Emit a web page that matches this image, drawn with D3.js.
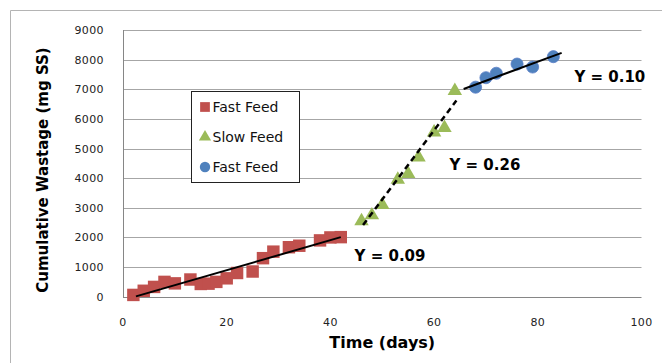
<!DOCTYPE html>
<html>
<head>
<meta charset="utf-8">
<script src="https://cdn.jsdelivr.net/npm/d3@7"></script>
<style>
  body { margin: 0; background: #fff; }
  svg { display: block; font-family: "DejaVu Sans", Verdana, sans-serif; }
</style>
</head>
<body>
<div id="chart"></div>
<script>
// values
const fastDays1 = [2, 4, 6, 8, 10, 13, 15, 16.5, 18, 20, 22, 25, 27, 29, 32, 34, 38, 40, 42];
const fastWaste1 = [60, 200, 330, 500, 450, 580, 430, 440, 500, 620, 800, 850, 1300, 1520, 1670, 1720, 1900, 2000, 2010];
const slowDays = [46, 48, 50, 53, 55, 57, 60, 62, 64];
const slowWaste = [2550, 2750, 3100, 3950, 4150, 4700, 5550, 5700, 6950];
const fastDays2 = [68, 70, 72, 76, 79, 83];
const fastWaste2 = [7070, 7390, 7540, 7850, 7750, 8100];

// trend line end points (day, wastage)
const trendFast1 = [[2.5, 10], [42, 2010]];
const trendSlow = [[46.3, 2420], [64.3, 6620]];
const trendFast2 = [[65.7, 7010], [84.6, 8230]];
const slopeLabels = ["Y = 0.09", "Y = 0.26", "Y = 0.10"];

const xTicks = [0, 20, 40, 60, 80, 100];
const yTicks = [0, 1000, 2000, 3000, 4000, 5000, 6000, 7000, 8000, 9000];
const legendNames = ["Fast Feed", "Slow Feed", "Fast Feed"];

const W = 662, H = 363;
const plot = {left: 123, right: 641.5, top: 30, bottom: 296.7};

const x = d3.scaleLinear().domain([0, 100]).range([plot.left, plot.right]);
const y = d3.scaleLinear().domain([0, 9000]).range([plot.bottom, plot.top]);

const svg = d3.select('#chart').append('svg')
  .attr('width', W)
  .attr('height', H);

// outer chart border (cut off at right/bottom in the picture)
svg.append('path')
  .attr('d', `M10.5,${H} V10.5 H${W}`)
  .attr('fill', 'none')
  .attr('stroke', '#b4b4b4');

// gridlines
svg.append('g').selectAll('line')
  .data(yTicks.slice(1))
  .join('line')
  .attr('x1', plot.left).attr('x2', plot.right)
  .attr('y1', d => Math.round(y(d)) + 0.5).attr('y2', d => Math.round(y(d)) + 0.5)
  .attr('stroke', '#a6a6a6');

// axes
svg.append('line')
  .attr('x1', plot.left + 0.5).attr('x2', plot.left + 0.5)
  .attr('y1', plot.top).attr('y2', Math.round(plot.bottom) + 0.5)
  .attr('stroke', '#868686');
svg.append('line')
  .attr('x1', plot.left).attr('x2', plot.right)
  .attr('y1', Math.round(plot.bottom) + 0.5).attr('y2', Math.round(plot.bottom) + 0.5)
  .attr('stroke', '#868686');

svg.append('g').selectAll('text')
  .data(yTicks)
  .join('text')
  .attr('x', 104)
  .attr('y', d => y(d) + 4)
  .attr('text-anchor', 'end')
  .attr('font-size', 11)
  .attr('letter-spacing', 0.4)
  .attr('fill', '#222')
  .text(d => d);

svg.append('g').selectAll('text')
  .data(xTicks)
  .join('text')
  .attr('x', d => x(d))
  .attr('y', 326)
  .attr('text-anchor', 'middle')
  .attr('font-size', 11)
  .attr('letter-spacing', 0.4)
  .attr('fill', '#222')
  .text(d => d);

svg.append('text')
  .attr('x', (plot.left + plot.right) / 2)
  .attr('y', 348)
  .attr('text-anchor', 'middle')
  .attr('font-size', 16)
  .attr('font-weight', 'bold')
  .text('Time (days)');

svg.append('text')
  .attr('transform', 'translate(48,170) rotate(-90)')
  .attr('text-anchor', 'middle')
  .attr('font-size', 15)
  .attr('font-weight', 'bold')
  .text('Cumulative Wastage (mg SS)');

// markers
const red = '#c0504d', green = '#9bbb59', blue = '#4f81bd';
const sq = d3.symbol().type(d3.symbolSquare).size(155);
const tri = d3.symbol().type(d3.symbolTriangle).size(90);
const circ = d3.symbol().type(d3.symbolCircle).size(115);

svg.append('g').selectAll('path')
  .data(d3.zip(fastDays1, fastWaste1))
  .join('path')
  .attr('d', sq)
  .attr('transform', d => `translate(${x(d[0])},${y(d[1])})`)
  .attr('fill', red);

svg.append('g').selectAll('path')
  .data(d3.zip(slowDays, slowWaste))
  .join('path')
  .attr('d', tri)
  .attr('transform', d => `translate(${x(d[0])},${y(d[1])})`)
  .attr('fill', green);

svg.append('g').selectAll('path')
  .data(d3.zip(fastDays2, fastWaste2))
  .join('path')
  .attr('d', circ)
  .attr('transform', d => `translate(${x(d[0])},${y(d[1])})`)
  .attr('fill', blue)
  .attr('stroke', '#5a7fc8')
  .attr('stroke-width', 0.8);

// trend lines
const line = d3.line().x(d => x(d[0])).y(d => y(d[1]));
svg.append('path').attr('d', line(trendFast1))
  .attr('stroke', '#000').attr('stroke-width', 2).attr('fill', 'none');
svg.append('path').attr('d', line(trendSlow))
  .attr('stroke', '#000').attr('stroke-width', 2.5).attr('fill', 'none')
  .attr('stroke-dasharray', '6,4');
svg.append('path').attr('d', line(trendFast2))
  .attr('stroke', '#000').attr('stroke-width', 2).attr('fill', 'none');

// slope labels, anchored in data units
const labelAnchors = [[51.5, 1220], [69.8, 4260], [93.9, 7230]];
svg.append('g').selectAll('text')
  .data(slopeLabels)
  .join('text')
  .attr('x', (d, i) => x(labelAnchors[i][0]))
  .attr('y', (d, i) => y(labelAnchors[i][1]))
  .attr('text-anchor', 'middle')
  .attr('font-size', 15)
  .attr('font-weight', 'bold')
  .text(d => d);

// legend
const lg = svg.append('g').attr('transform', 'translate(191.5,91.5)');
lg.append('rect')
  .attr('width', 108).attr('height', 91)
  .attr('fill', '#fff').attr('stroke', '#222');
const legendSyms = [
  {sym: d3.symbol().type(d3.symbolSquare).size(95), fill: red},
  {sym: d3.symbol().type(d3.symbolTriangle).size(65), fill: green},
  {sym: d3.symbol().type(d3.symbolCircle).size(85), fill: blue}
];
const item = lg.selectAll('g.item')
  .data(legendNames)
  .join('g')
  .attr('class', 'item')
  .attr('transform', (d, i) => `translate(0,${15.5 + i * 30})`);
item.append('path')
  .attr('d', (d, i) => legendSyms[i].sym())
  .attr('transform', 'translate(13.5,0)')
  .attr('fill', (d, i) => legendSyms[i].fill);
item.append('text')
  .attr('x', 21)
  .attr('y', 5)
  .attr('font-size', 14)
  .attr('fill', '#111')
  .text(d => d);
</script>
</body>
</html>
